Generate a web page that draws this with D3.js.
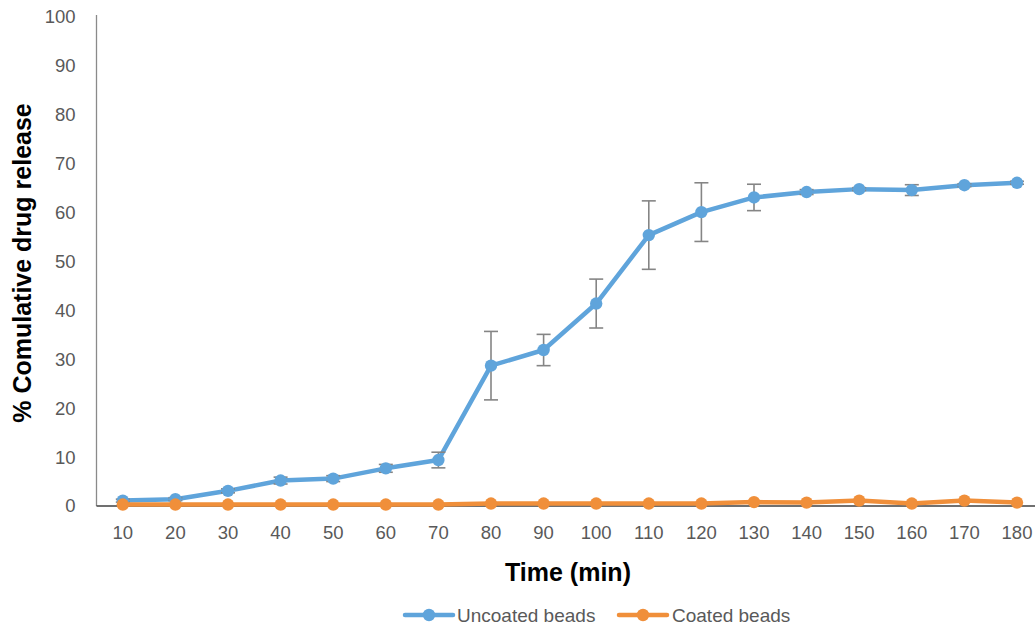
<!DOCTYPE html>
<html>
<head>
<meta charset="utf-8">
<script src="https://cdn.jsdelivr.net/npm/d3@7"></script>
<style>
  html, body { margin: 0; padding: 0; background: #fff; }
  svg { display: block; }
</style>
</head>
<body>
<svg id="chart" width="1035" height="629"></svg>
<script>
// Sampling times (min)
const times = ["10","20","30","40","50","60","70","80","90","100","110","120","130","140","150","160","170","180"];
// % cumulative drug release, uncoated beads, with SD
const uncoated    = [1.1, 1.4, 3.1, 5.2, 5.6, 7.7, 9.4, 28.7, 31.9, 41.4, 55.4, 60.1, 63.1, 64.2, 64.8, 64.6, 65.6, 66.1];
const uncoatedErr = [0.3, 0.3, 0.4, 0.7, 0.6, 0.8, 1.6, 7.0, 3.2, 5.0, 7.0, 6.0, 2.7, 0.5, 0.3, 1.1, 0.3, 0.3];
// % cumulative drug release, coated beads
const coated      = [0.3, 0.3, 0.3, 0.3, 0.3, 0.3, 0.3, 0.5, 0.5, 0.5, 0.5, 0.5, 0.8, 0.7, 1.1, 0.5, 1.1, 0.7];
const yTicks = [0, 10, 20, 30, 40, 50, 60, 70, 80, 90, 100];

const series = [
  { name: "Uncoated beads", values: uncoated, err: uncoatedErr, color: "#5fa4db" },
  { name: "Coated beads",   values: coated,   err: null,        color: "#f08f3a" }
];

const svg = d3.select("#chart");
const plotLeft = 96.5, plotRight = 1043.3, plotTop = 17, plotBottom = 506;

const x = d3.scaleBand().domain(times).range([plotLeft, plotRight]).padding(0);
const y = d3.scaleLinear().domain([0, 100]).range([plotBottom, plotTop]);
const cx = t => x(t) + x.bandwidth() / 2;

const fontMain = "'Liberation Sans', Arial, sans-serif";

// Y axis
const yAxis = svg.append("g")
  .attr("transform", `translate(${plotLeft},0)`)
  .call(d3.axisLeft(y).tickValues(yTicks).tickSize(0).tickPadding(21));
yAxis.select(".domain").remove();
yAxis.selectAll("text")
  .attr("fill", "#595959")
  .style("font-family", fontMain)
  .style("font-size", "18.5px");
svg.append("line")
  .attr("x1", plotLeft).attr("x2", plotLeft)
  .attr("y1", y(100) - 2).attr("y2", plotBottom)
  .attr("stroke", "#8a8a8a").attr("stroke-width", 1.3);

// X axis
const xAxis = svg.append("g")
  .attr("transform", `translate(0,${plotBottom})`)
  .call(d3.axisBottom(x).tickSize(0).tickPadding(20));
xAxis.select(".domain").remove();
xAxis.selectAll("text")
  .attr("fill", "#595959")
  .style("font-family", fontMain)
  .style("font-size", "18.5px");
svg.append("line")
  .attr("x1", plotLeft).attr("x2", plotRight)
  .attr("y1", plotBottom).attr("y2", plotBottom)
  .attr("stroke", "#404040").attr("stroke-width", 1.3);

// Axis titles
svg.append("text")
  .attr("x", 568).attr("y", 581)
  .attr("text-anchor", "middle")
  .style("font-family", fontMain)
  .style("font-weight", "bold")
  .style("font-size", "25px")
  .attr("fill", "#000")
  .text("Time (min)");

svg.append("text")
  .attr("transform", `translate(31,263) rotate(-90)`)
  .attr("text-anchor", "middle")
  .style("font-family", fontMain)
  .style("font-weight", "bold")
  .style("font-size", "25px")
  .attr("fill", "#000")
  .text("% Comulative drug release");

// Series lines, error bars and markers
const line = d3.line().x((d, i) => cx(times[i])).y(d => y(d));

series.forEach(s => {
  svg.append("path")
    .datum(s.values)
    .attr("d", line)
    .attr("fill", "none")
    .attr("stroke", s.color)
    .attr("stroke-width", 4.5)
    .attr("stroke-linejoin", "round");

  if (s.err) {
    const eb = svg.append("g").attr("stroke", "#858585").attr("stroke-width", 1.6);
    s.values.forEach((v, i) => {
      const px = cx(times[i]);
      const y1 = y(v + s.err[i]), y2 = y(v - s.err[i]);
      eb.append("line").attr("x1", px).attr("x2", px).attr("y1", y1).attr("y2", y2);
      eb.append("line").attr("x1", px - 7).attr("x2", px + 7).attr("y1", y1).attr("y2", y1);
      eb.append("line").attr("x1", px - 7).attr("x2", px + 7).attr("y1", y2).attr("y2", y2);
    });
  }

  svg.append("g").selectAll("circle")
    .data(s.values)
    .join("circle")
    .attr("cx", (d, i) => cx(times[i]))
    .attr("cy", d => y(d))
    .attr("r", 6.2)
    .attr("fill", s.color);
});

// Legend
const legend = [
  { s: series[0], x0: 405, tx: 457 },
  { s: series[1], x0: 619, tx: 672 }
];
legend.forEach(l => {
  const g = svg.append("g");
  g.append("line")
    .attr("x1", l.x0).attr("x2", l.x0 + 48)
    .attr("y1", 615).attr("y2", 615)
    .attr("stroke", l.s.color).attr("stroke-width", 4.5)
    .attr("stroke-linecap", "round");
  g.append("circle")
    .attr("cx", l.x0 + 24).attr("cy", 615).attr("r", 6.2)
    .attr("fill", l.s.color);
  g.append("text")
    .attr("x", l.tx).attr("y", 621.5)
    .style("font-family", fontMain)
    .style("font-size", "19px")
    .attr("fill", "#595959")
    .text(l.s.name);
});
</script>
</body>
</html>
